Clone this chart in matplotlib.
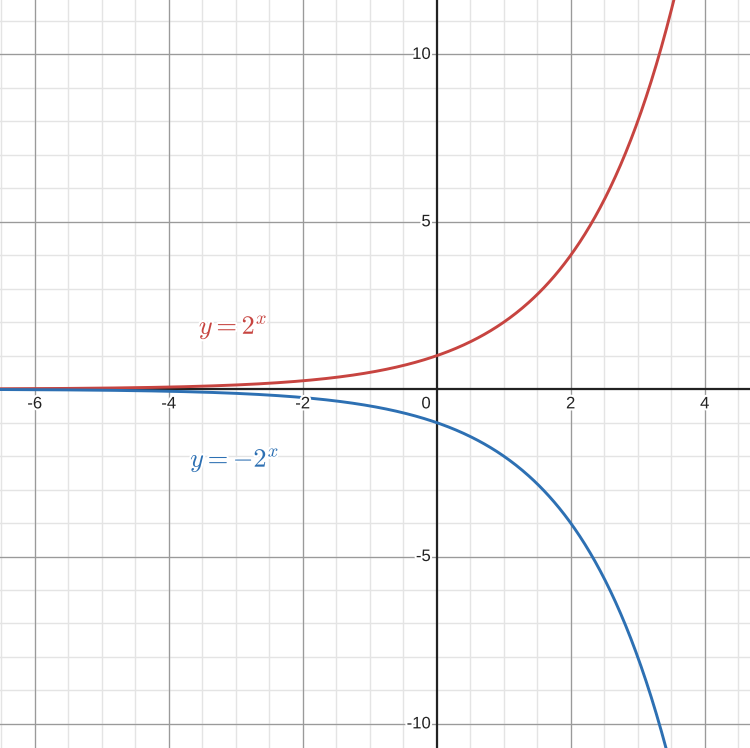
import numpy as np
import matplotlib
matplotlib.use("Agg")
import matplotlib.pyplot as plt
import matplotlib.patheffects as pe

# Data: the two plotted functions y = 2^x and y = -2^x
base = 2.0
x_vals = np.linspace(-6.6, 4.8, 600)
y_pos = np.power(base, x_vals)
y_neg = -np.power(base, x_vals)

x_ticks = [-6, -4, -2, 2, 4]
y_ticks = [-10, -5, 5, 10]
x_minor = np.arange(-6.5, 5.0, 0.5)
y_minor = np.arange(-11, 12, 1)

red = "#c74440"
blue = "#2d70b3"

xlim = (-6.518, 4.676)
ylim = (-10.72, 11.626)

plt.rcParams["mathtext.fontset"] = "cm"

fig = plt.figure(figsize=(7.5, 7.48), dpi=100)
ax = fig.add_axes([0, 0, 1, 1])
ax.set_xlim(*xlim)
ax.set_ylim(*ylim)
ax.axis("off")

# minor grid
for xv in x_minor:
    ax.axvline(xv, color="#e4e4e4", lw=1.0, zorder=0)
for yv in y_minor:
    ax.axhline(yv, color="#e4e4e4", lw=1.0, zorder=0)
# major grid
for xv in x_ticks:
    ax.axvline(xv, color="#9a9a9a", lw=0.9, zorder=1)
for yv in y_ticks:
    ax.axhline(yv, color="#9a9a9a", lw=0.9, zorder=1)
# axes
ax.axhline(0, color="#222222", lw=1.6, zorder=2)
ax.axvline(0, color="#222222", lw=1.6, zorder=2)

# curves
ax.plot(x_vals, y_pos, color=red, lw=2.1, zorder=4, solid_capstyle="round")
ax.plot(x_vals, y_neg, color=blue, lw=2.1, zorder=4, solid_capstyle="round")

halo = [pe.withStroke(linewidth=3, foreground="white")]
lab_kw = dict(fontsize=12, family="Liberation Sans", color="#222222", zorder=5,
              path_effects=halo)

for xv in x_ticks:
    ax.text(xv, -0.44, f"{xv}", ha="center", va="center", **lab_kw)
ax.text(-0.09, -0.44, "0", ha="right", va="center", **lab_kw)
for yv in y_ticks:
    ax.text(-0.09, yv, f"{yv}", ha="right", va="center", **lab_kw)

ax.text(-3.55, 1.85, r"$y=2^{x}$", color=red, fontsize=19, ha="left", va="center",
        zorder=5, path_effects=halo)
ax.text(-3.68, -2.12, r"$y=-2^{x}$", color=blue, fontsize=19, ha="left", va="center",
        zorder=5, path_effects=halo)

fig.savefig("out.png", dpi=100)
